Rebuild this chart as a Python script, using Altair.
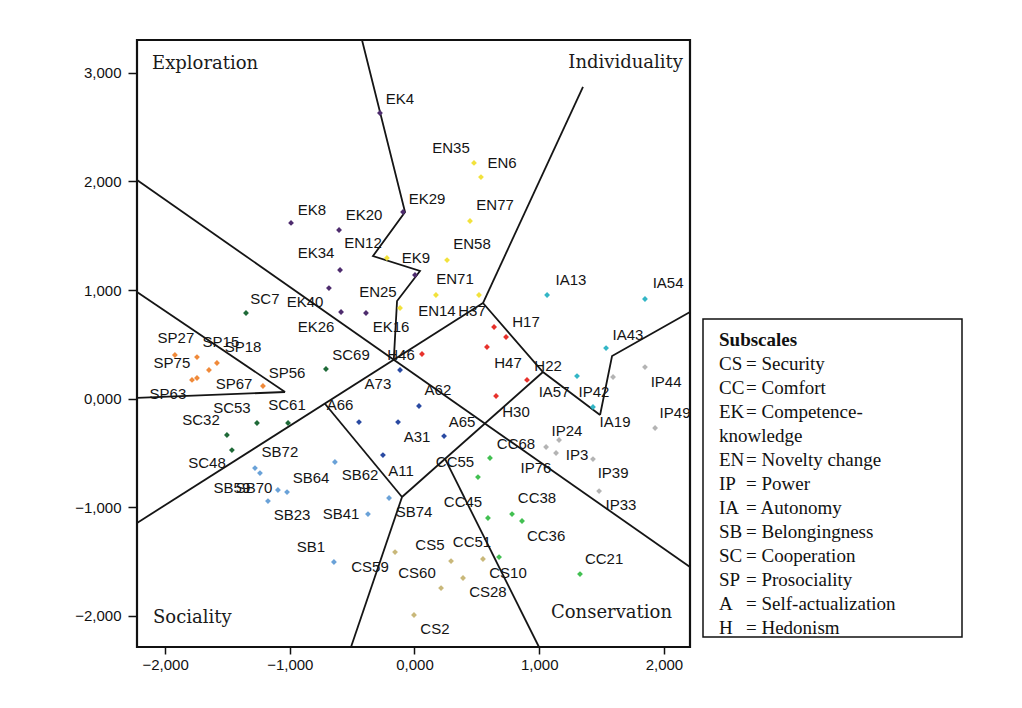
import re
import altair as alt
import pandas as pd

# ---- subscale items: name, point position, label position (data units, thousands) ----
names = ["EK4", "EK8", "EK20", "EK29", "EK34", "EK9", "EK40", "EK26", "EK16",
         "EN35", "EN6", "EN77", "EN58", "EN71", "EN14", "EN12", "EN25",
         "H46", "H37", "H17", "H47", "H22", "H30",
         "IA13", "IA54", "IA43", "IA57", "IA19",
         "IP44", "IP42", "IP49", "IP24", "IP3", "IP76", "IP39", "IP33",
         "CC68", "CC55", "CC45", "CC38", "CC36", "CC51", "CC21",
         "CS59", "CS5", "CS10", "CS60", "CS28", "CS2",
         "SB72", "SB64", "SB62", "SB59", "SB70", "SB23", "SB41", "SB74", "SB1",
         "SC7", "SC69", "SC53", "SC61", "SC32", "SC48",
         "SP27", "SP15", "SP18", "SP75", "SP63", "SP67", "SP56",
         "A73", "A62", "A66", "A65", "A31", "A11"]

pt_x = [-0.277, -0.990, -0.605, -0.092, -0.597, 0.004, -0.686, -0.589, -0.389,
        0.477, 0.533, 0.445, 0.261, 0.517, 0.172, -0.221, -0.116,
        0.060, 0.638, 0.734, 0.581, 0.902, 0.654,
        1.063, 1.848, 1.536, 1.303, 1.431,
        1.848, 1.592, 1.929, 1.159, 1.135, 1.055, 1.431, 1.480,
        0.605, 0.509, 0.589, 0.782, 0.862, 0.678, 1.327,
        -0.156, 0.293, 0.549, 0.389, 0.213, -0.004,
        -1.279, -0.638, -0.373, -1.239, -1.095, -1.175, -1.022, -0.204, -0.646,
        -1.351, -0.710, -1.263, -1.014, -1.504, -1.464,
        -1.921, -1.744, -1.584, -1.648, -1.784, -1.744, -1.215,
        -0.116, 0.036, -0.445, 0.237, -0.132, -0.253]

pt_y = [2.631, 1.618, 1.553, 1.719, 1.184, 1.138, 1.018, 0.797, 0.788,
        2.171, 2.041, 1.636, 1.276, 0.954, 0.954, 1.295, 0.834,
        0.410, 0.659, 0.567, 0.475, 0.171, 0.023,
        0.954, 0.917, 0.465, 0.207, -0.078,
        0.290, 0.198, -0.272, -0.382, -0.502, -0.447, -0.558, -0.853,
        -0.548, -0.724, -1.101, -1.065, -1.129, -1.461, -1.618,
        -1.415, -1.498, -1.479, -1.654, -1.747, -1.995,
        -0.641, -0.585, -1.065, -0.687, -0.843, -0.945, -0.862, -0.917, -1.507,
        0.788, 0.272, -0.226, -0.226, -0.336, -0.475,
        0.401, 0.382, 0.327, 0.263, 0.171, 0.189, 0.115,
        0.263, -0.069, -0.217, -0.346, -0.217, -0.521]

lab_x = [-0.116, -0.822, -0.405, 0.100, -0.790, 0.012, -0.878, -0.790, -0.188,
         0.293, 0.702, 0.646, 0.461, 0.325, 0.180, -0.413, -0.293,
         -0.108, 0.461, 0.894, 0.750, 1.071, 0.814,
         1.255, 2.033, 1.712, 1.119, 1.608,
         2.017, 1.439, 2.089, 1.223, 1.303, 0.974, 1.592, 1.656,
         0.814, 0.325, 0.389, 0.982, 1.055, 0.461, 1.520,
         -0.357, 0.124, 0.750, 0.020, 0.589, 0.164,
         -1.079, -0.830, -0.437, -1.464, -1.287, -0.982, -0.589, -0.004, -0.830,
         -1.199, -0.509, -1.464, -1.022, -1.712, -1.664,
         -1.913, -1.552, -1.375, -1.945, -1.977, -1.447, -1.022,
         -0.293, 0.188, -0.597, 0.381, 0.020, -0.108]

lab_y = [2.760, 1.737, 1.691, 1.839, 1.341, 1.295, 0.889, 0.659, 0.659,
         2.309, 2.171, 1.783, 1.424, 1.101, 0.806, 1.433, 0.982,
         0.401, 0.806, 0.705, 0.327, 0.300, -0.124,
         1.092, 1.065, 0.585, 0.060, -0.217,
         0.152, 0.060, -0.134, -0.300, -0.521, -0.641, -0.687, -0.982,
         -0.419, -0.585, -0.954, -0.917, -1.267, -1.323, -1.479,
         -1.553, -1.350, -1.608, -1.608, -1.783, -2.124,
         -0.493, -0.733, -0.705, -0.825, -0.825, -1.074, -1.065, -1.046, -1.369,
         0.917, 0.401, -0.088, -0.060, -0.198, -0.594,
         0.558, 0.521, 0.475, 0.327, 0.041, 0.134, 0.235,
         0.134, 0.078, -0.060, -0.217, -0.355, -0.668]

groups = ["EK", "EN", "H", "IA", "IP", "CC", "CS", "SB", "SC", "SP", "A"]
group_colors = ["#4e2c6e", "#f2e23c", "#e8322c", "#33b6c6", "#b4b4b4", "#42c052",
                "#c9b87a", "#6aa2d8", "#1f6a38", "#f08a3a", "#2a4aa2"]

# ---- boundary lines (data units) ----
seg_id = ["A", "A", "B", "B", "C", "C", "D", "D", "D", "E", "E", "F", "F",
          "G", "G", "H", "H", "I", "I", "I", "J", "J", "K", "K",
          "P", "P", "P", "P", "P", "P"]
seg_x = [-2.225, 2.209, -2.225, 0.549, 0.549, 1.351, 0.549, 1.030, 1.488,
         1.030, -0.100, -0.718, -0.100, -0.100, -0.509, 0.245, 0.998,
         1.488, 1.584, 2.209, -2.225, -1.038, -2.225, -1.038,
         -0.421, -0.076, -0.333, 0.044, -0.140, -0.166]
seg_y = [2.014, -1.553, -1.147, 0.880, 0.880, 2.871, 0.880, 0.244, -0.152,
         0.244, -0.908, -0.048, -0.908, -0.908, -2.290, -0.556, -2.290,
         -0.152, 0.392, 0.797, 0.982, 0.060, 0.005, 0.060,
         3.304, 1.719, 1.313, 1.175, 0.899, 0.358]

x_ticks = [-2, -1, 0, 1, 2]
y_ticks = [-2, -1, 0, 1, 2, 3]

region_names = ["Exploration", "Individuality", "Sociality", "Conservation"]

legend_title = "Subscales"
legend_codes = ["CS", "CC", "EK", "knowledge", "EN", "IP", "IA", "SB", "SC", "SP", "A", "H"]
legend_desc_top = ["= Security", "= Comfort", "= Competence-"]
legend_desc_bottom = ["= Novelty change", "= Power", "= Autonomy", "= Belongingness",
                      "= Cooperation", "= Prosociality", "= Self-actualization", "= Hedonism"]

# ---- tables ----
items = pd.DataFrame({"name": names, "px": pt_x, "py": pt_y, "lx": lab_x, "ly": lab_y})
items["group"] = [re.match(r"[A-Z]+", n).group(0) for n in names]

segs = pd.DataFrame({"id": seg_id, "x": seg_x, "y": seg_y})
segs["ord"] = range(len(segs))

W, H = 553, 607
XDOM = [-2.225, 2.209]
YDOM = [-2.290, 3.304]
label_expr = "replace(format(datum.value, '.3f'), '.', ',')"

xs = alt.Scale(domain=XDOM, nice=False, zero=False)
ys = alt.Scale(domain=YDOM, nice=False, zero=False)

x_axis = alt.Axis(values=x_ticks, labelExpr=label_expr, title=None, grid=False,
                  domain=False, tickSize=7, labelPadding=3, tickColor="#111",
                  tickWidth=1.5, labelFont="Liberation Sans", labelFontSize=15,
                  labelColor="#111")
y_axis = alt.Axis(values=y_ticks, labelExpr=label_expr, title=None, grid=False,
                  domain=False, tickSize=9, labelPadding=7, tickColor="#111",
                  tickWidth=1.5, labelFont="Liberation Sans", labelFontSize=15,
                  labelColor="#111")

base_lines = alt.Chart(segs).mark_line(color="#151515", strokeWidth=1.8).encode(
    x=alt.X("x:Q", scale=xs, axis=x_axis),
    y=alt.Y("y:Q", scale=ys, axis=y_axis),
    detail="id:N",
    order="ord:Q",
)

points = alt.Chart(items).mark_point(shape="diamond", filled=True, size=34, opacity=1).encode(
    x=alt.X("px:Q", scale=xs),
    y=alt.Y("py:Q", scale=ys),
    color=alt.Color("group:N", scale=alt.Scale(domain=groups, range=group_colors), legend=None),
)

labels = alt.Chart(items).mark_text(font="Liberation Sans", fontSize=15, color="#141414",
                                    clip=True).encode(
    x=alt.X("lx:Q", scale=xs),
    y=alt.Y("ly:Q", scale=ys),
    text="name:N",
)

one = pd.DataFrame({"k": [0]})

def region(txt, x, y, align):
    return alt.Chart(one).mark_text(text=txt, font="DejaVu Serif", fontSize=18,
                                    color="#1a1a1a", align=align, baseline="middle").encode(
        x=alt.value(x), y=alt.value(y))

regions = [
    region(region_names[0], 15, 24, "left"),
    region(region_names[1], 546, 23, "right"),
    region(region_names[2], 16, 578, "left"),
    region(region_names[3], 535, 573, "right"),
]

legend_box = alt.Chart(one).mark_rect(fill="white", stroke="#111", strokeWidth=1.5).encode(
    x=alt.value(566), x2=alt.value(825), y=alt.value(279), y2=alt.value(597))

def legend_text(lines, x, y, bold=False):
    return alt.Chart(one).mark_text(text=lines, font="Liberation Serif", fontSize=19,
                                    fontWeight="bold" if bold else "normal",
                                    lineHeight=24, color="#111", align="left",
                                    baseline="top").encode(x=alt.value(x), y=alt.value(y))

legend_layers = [
    legend_box,
    legend_text(legend_title, 582, 291, bold=True),
    legend_text(legend_codes, 582, 315),
    legend_text(legend_desc_top, 609, 315),
    legend_text(legend_desc_bottom, 609, 315 + 4 * 24),
]

chart = alt.layer(base_lines, points, labels, *regions, *legend_layers).properties(
    width=W, height=H,
    autosize=alt.AutoSizeParams(type="none"),
    padding={"left": 129, "top": 32, "right": 310, "bottom": 45},
    background="white",
).configure_view(stroke="#111", strokeWidth=2.2)

chart.save("out.html", embed_options={"renderer": "svg", "actions": False})
